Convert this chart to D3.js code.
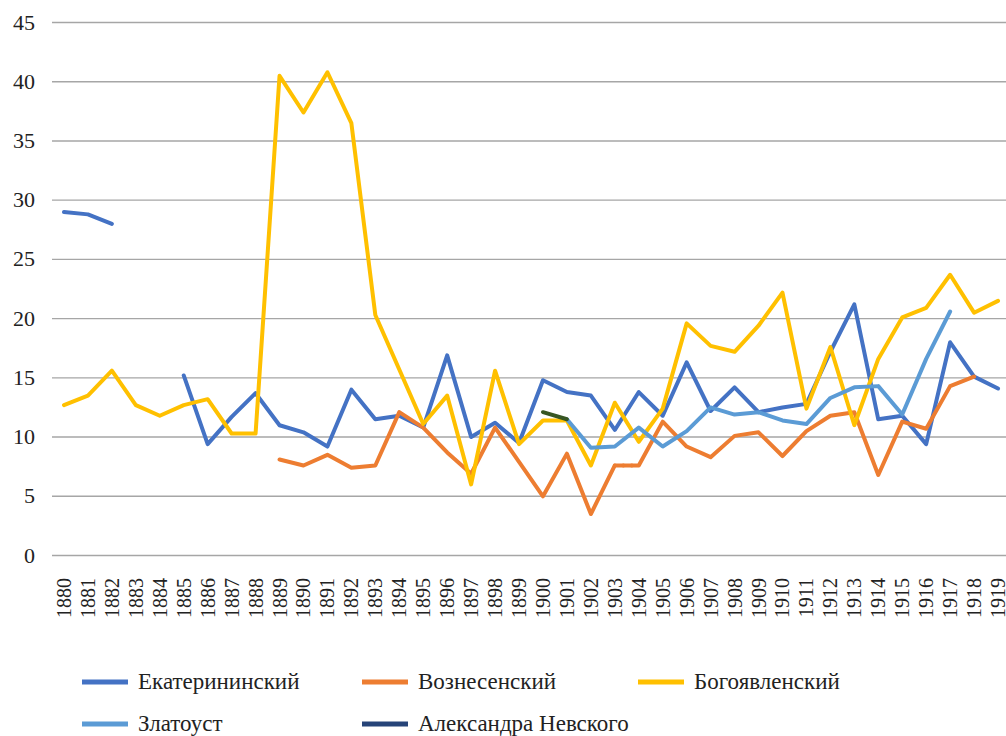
<!DOCTYPE html>
<html>
<head>
<meta charset="utf-8">
<script src="https://cdn.jsdelivr.net/npm/d3@7"></script>
<style>
  body { margin: 0; background: #fff; }
  #chart { position: relative; width: 1006px; height: 736px; overflow: hidden; }
  svg { display: block; position: absolute; left: 0; top: 0; }
  .lbl { position: absolute; white-space: nowrap; line-height: 1; color: #222;
         font-family: "Liberation Serif", "Times New Roman", serif; }
  .xl { writing-mode: vertical-rl; transform: rotate(180deg); }
</style>
</head>
<body>
<div id="chart"></div>
<script>
const years = d3.range(1880, 1920);
const yTicks = [0, 5, 10, 15, 20, 25, 30, 35, 40, 45];

// values per year, 1880..1919 (null = no data)
const ekaterininsky = [29.0, 28.8, 28.0, null, null, 15.2, 9.4, 11.7, 13.7, 11.0,
  10.4, 9.2, 14.0, 11.5, 11.8, 10.8, 16.9, 10.0, 11.2, 9.5,
  14.8, 13.8, 13.5, 10.6, 13.8, 11.8, 16.3, 12.2, 14.2, 12.1,
  12.5, 12.8, 17.2, 21.2, 11.5, 11.8, 9.4, 18.0, 15.1, 14.1];
const voznesensky = [null, null, null, null, null, null, null, null, null, 8.1,
  7.6, 8.5, 7.4, 7.6, 12.1, 10.8, 8.7, 6.9, 10.8, 7.9,
  5.0, 8.6, 3.5, 7.6, 7.6, 11.3, 9.2, 8.3, 10.1, 10.4,
  8.4, 10.5, 11.8, 12.1, 6.8, 11.3, 10.7, 14.3, 15.1, null];
const bogoyavlensky = [12.7, 13.5, 15.6, 12.7, 11.8, 12.7, 13.2, 10.3, 10.3, 40.5,
  37.4, 40.8, 36.5, 20.3, 15.7, 11.1, 13.5, 6.0, 15.6, 9.4,
  11.4, 11.4, 7.6, 12.9, 9.6, 12.4, 19.6, 17.7, 17.2, 19.4,
  22.2, 12.4, 17.6, 11.0, 16.6, 20.1, 20.9, 23.7, 20.5, 21.5];
const zlatoust = [null, null, null, null, null, null, null, null, null, null,
  null, null, null, null, null, null, null, null, null, null,
  null, 11.5, 9.1, 9.2, 10.8, 9.2, 10.5, 12.5, 11.9, 12.1,
  11.4, 11.1, 13.3, 14.2, 14.3, 11.9, 16.6, 20.6, null, null];
const nevsky = [];
// short unlabelled segment, 1900-1901
const extraSeg = [null, null, null, null, null, null, null, null, null, null,
  null, null, null, null, null, null, null, null, null, null,
  12.1, 11.5, null, null, null, null, null, null, null, null,
  null, null, null, null, null, null, null, null, null, null];
// dotted gap of Вознесенский between 1903 and 1904
const voznesenskyGap = [1903, 1904];

const series = [
  { name: "Екатерининский", values: ekaterininsky, color: "#4472C4" },
  { name: "Вознесенский", values: voznesensky, color: "#ED7D31" },
  { name: "Богоявленский", values: bogoyavlensky, color: "#FFC000" },
  { name: "Златоуст", values: zlatoust, color: "#5B9BD5" },
  { name: "Александра Невского", values: nevsky, color: "#264478" }
];

const width = 1006, height = 736;
const chart = d3.select("#chart");
const svg = chart.append("svg")
  .attr("width", width).attr("height", height);

const x = d3.scaleBand().domain(years).range([52, 1010]);
const y = d3.scaleLinear().domain([0, 45]).range([555.5, 22.5]);
const cx = yr => x(yr) + x.bandwidth() / 2;

// gridlines
svg.append("g").selectAll("line")
  .data(yTicks).enter().append("line")
  .attr("x1", 52).attr("x2", 1012)
  .attr("y1", d => y(d)).attr("y2", d => y(d))
  .attr("stroke", "#a6a6a6").attr("stroke-width", 1.4);

// y labels (html text, so the serif face is used)
chart.selectAll("div.yl")
  .data(yTicks).enter().append("div")
  .attr("class", "lbl yl")
  .style("right", (width - 35) + "px")
  .style("top", d => (y(d) - 11) + "px")
  .style("font-size", "22px")
  .text(d => d);

// x labels, reading bottom to top
chart.selectAll("div.xl")
  .data(years).enter().append("div")
  .attr("class", "lbl xl")
  .style("left", d => (cx(d) - 10) + "px")
  .style("top", "578px")
  .style("width", "20px")
  .style("font-size", "20px")
  .style("line-height", "20px")
  .text(d => d);

const line = d3.line()
  .defined(d => d.v != null)
  .x(d => cx(d.yr))
  .y(d => y(d.v));

const lines = svg.append("g");
series.forEach(s => {
  const pts = years.map((yr, i) => ({ yr, v: s.values[i] ?? null }));
  lines.append("path")
    .attr("d", line(pts))
    .attr("fill", "none")
    .attr("stroke", s.color)
    .attr("stroke-width", 4)
    .attr("stroke-linejoin", "round")
    .attr("stroke-linecap", "round");
});

lines.append("path")
  .attr("d", line(years.map((yr, i) => ({ yr, v: extraSeg[i] }))))
  .attr("fill", "none")
  .attr("stroke", "#375623")
  .attr("stroke-width", 4)
  .attr("stroke-linecap", "round");

const gapPts = voznesenskyGap.map(yr => ({ yr, v: voznesensky[years.indexOf(yr)] }));
lines.append("path")
  .attr("d", line(gapPts))
  .attr("fill", "none")
  .attr("stroke", "#ED7D31")
  .attr("stroke-width", 4)
  .attr("stroke-linecap", "round")
  .attr("stroke-dasharray", "0,8.5");

// legend
const legX = [82, 362, 638];
const legY = [682, 724];
const legPos = (i) => [legX[i % 3], legY[Math.floor(i / 3)]];

svg.append("g").selectAll("line")
  .data(series).enter().append("line")
  .attr("x1", (d, i) => legPos(i)[0]).attr("x2", (d, i) => legPos(i)[0] + 46)
  .attr("y1", (d, i) => legPos(i)[1]).attr("y2", (d, i) => legPos(i)[1])
  .attr("stroke", d => d.color)
  .attr("stroke-width", 5);

chart.selectAll("div.lg")
  .data(series).enter().append("div")
  .attr("class", "lbl lg")
  .style("left", (d, i) => (legPos(i)[0] + 56) + "px")
  .style("top", (d, i) => (legPos(i)[1] - 12) + "px")
  .style("font-size", "23px")
  .text(d => d.name);
</script>
</body>
</html>
